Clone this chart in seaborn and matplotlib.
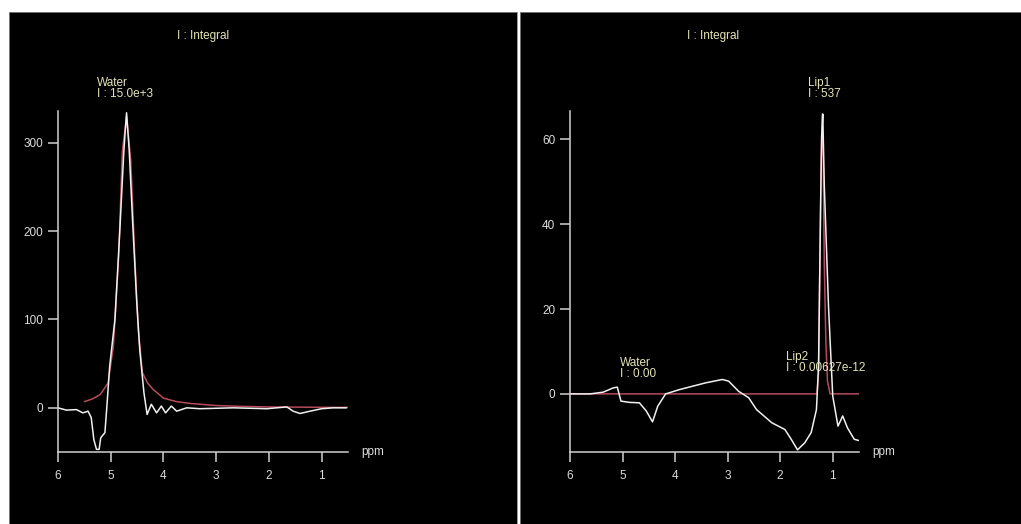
import numpy as np
import pandas as pd
import seaborn as sns
import matplotlib
matplotlib.use("Agg")
from matplotlib import pyplot as plt

# left spectrum (water peak), ppm / amplitude
ppm_water = [6.0, 5.84, 5.65, 5.53, 5.43, 5.37, 5.32, 5.27, 5.22, 5.19, 5.11, 5.07, 5.02,
             4.92, 4.83, 4.75, 4.70, 4.65, 4.59, 4.51, 4.45, 4.37, 4.31, 4.23, 4.13, 4.04,
             3.96, 3.85, 3.75, 3.56, 3.31, 2.68, 2.04, 1.66, 1.54, 1.41, 1.22, 1.0, 0.78, 0.53]
amp_water = [0, -2.6, -2, -5.7, -3.8, -11, -36, -47, -47, -34, -28, 4, 47,
             100, 198, 292, 334, 292, 217, 123, 66, 17, -7.5, 4, -5.7, 2,
             -5.7, 2, -3.8, 0, -1, 0, -1, 1, -3.8, -6.4, -3.8, -1, 0, 0]
fit_ppm_water = [5.5, 5.35, 5.2, 5.05, 4.95, 4.85, 4.78, 4.70, 4.62, 4.55, 4.48, 4.4,
                 4.3, 4.2, 4.0, 3.75, 3.5, 3.0, 2.5, 2.0, 1.5, 1.0, 0.5]
fit_amp_water = [7, 10, 15, 28, 70, 170, 290, 330, 280, 180, 90, 40,
                 28, 21, 11, 7, 5, 2.6, 1.6, 1, 0.8, 0.6, 0.5]

# right spectrum (lipid peak)
ppm_lip = [6.0, 5.62, 5.37, 5.18, 5.1, 5.03, 4.87, 4.68, 4.55, 4.43, 4.33, 4.18, 3.92,
           3.67, 3.42, 3.1, 2.98, 2.79, 2.6, 2.45, 2.16, 1.91, 1.79, 1.67, 1.53, 1.41,
           1.31, 1.27, 1.23, 1.21, 1.19, 1.16, 1.08, 1.0, 0.9, 0.81, 0.72, 0.59, 0.5]
amp_lip = [0, 0, 0.4, 1.4, 1.6, -1.7, -2, -2.1, -4, -6.6, -2.9, 0, 1,
           1.8, 2.6, 3.4, 3, 0.6, -0.9, -3.7, -6.8, -8.4, -10.7, -13.2, -11.5, -9.1,
           -3.7, 6.5, 45, 61, 66, 49, 20.5, -0.5, -7.6, -5.2, -8, -10.7, -11]
fit_ppm_lip = [6.0, 2.0, 1.3, 1.27, 1.25, 1.22, 1.2, 1.18, 1.16, 1.13, 1.1, 1.05, 0.5]
fit_amp_lip = [0, 0, 0, 5, 25, 55, 66, 55, 30, 12, 3, 0, 0]

W, H = 1021, 524
bg = "#000000"
axis_col = "#d0d0d0"
text_col = "#e4e4b8"
fit_col = "#b84a5c"
fs = 8.5

sns.set_theme(style="dark")
plt.rcParams['font.family'] = ['Liberation Sans', 'DejaVu Sans']

fig = plt.figure(figsize=(W / 100, H / 100), dpi=100)
fig.patch.set_facecolor("white")


def px_box(x0, y0, x1, y1):
    return [x0 / W, 1 - y1 / H, (x1 - x0) / W, (y1 - y0) / H]


def panel(bx0, bx1, ax_x0, ax_x1, ylim, yticks, title_x):
    back = fig.add_axes(px_box(bx0, 12, bx1, H))
    back.set_facecolor(bg)
    back.set_xticks([])
    back.set_yticks([])
    for s in back.spines.values():
        s.set_color("#888888")
        s.set_linewidth(0.6)
    ax = fig.add_axes(px_box(ax_x0, 111, ax_x1, 452))
    ax.patch.set_alpha(0)
    ax.set_xlim(6, 0.5)
    ax.set_ylim(*ylim)
    ax.set_xticks([6, 5, 4, 3, 2, 1])
    ax.set_xticklabels(["6", "5", "4", "3", "2", "1"])
    ax.set_yticks(yticks)
    ax.set_yticklabels([str(t) for t in yticks])
    ax.grid(False)
    for side in ["top", "right"]:
        ax.spines[side].set_visible(False)
    for side in ["left", "bottom"]:
        ax.spines[side].set_color(axis_col)
        ax.spines[side].set_linewidth(1.1)
    ax.tick_params(axis="both", colors=axis_col, labelcolor="#dcdcdc", labelsize=fs,
                   length=7, width=1.1, direction="out", bottom=True, left=True)
    ax.tick_params(axis="x", pad=6)
    ax.set_xlabel("")
    ax.set_ylabel("")
    fig.text(title_x / W, 1 - 36 / H, "I : Integral", color=text_col, fontsize=fs,
             ha="center", va="center")
    ax.text(1.045, 0.0, "ppm", transform=ax.transAxes, color="#dcdcdc", fontsize=fs,
            ha="left", va="center")
    return ax


ax1 = panel(9, 517, 58, 348, (-50, 336), [0, 100, 200, 300], 203)
ax2 = panel(520, W, 570, 859, (-13.7, 66.7), [0, 20, 40, 60], 713)

df_w = pd.DataFrame({"ppm": ppm_water, "amp": amp_water})
df_wf = pd.DataFrame({"ppm": fit_ppm_water, "amp": fit_amp_water})
df_l = pd.DataFrame({"ppm": ppm_lip, "amp": amp_lip})
df_lf = pd.DataFrame({"ppm": fit_ppm_lip, "amp": fit_amp_lip})

sns.lineplot(data=df_wf, x="ppm", y="amp", ax=ax1, color=fit_col, lw=1.1, estimator=None)
sns.lineplot(data=df_w, x="ppm", y="amp", ax=ax1, color="#f0f0f0", lw=1.1, estimator=None)
sns.lineplot(data=df_lf, x="ppm", y="amp", ax=ax2, color=fit_col, lw=1.1, estimator=None)
sns.lineplot(data=df_l, x="ppm", y="amp", ax=ax2, color="#f0f0f0", lw=1.1, estimator=None)
for ax in (ax1, ax2):
    ax.set_xlim(6, 0.5)
    ax.set_xlabel("")
    ax.set_ylabel("")

ax1.text(5.26, 349, "Water\nI : 15.0e+3", color=text_col, fontsize=fs, ha="left",
         va="bottom", linespacing=0.85, clip_on=False)
ax2.text(1.47, 69.3, "Lip1\nI : 537", color=text_col, fontsize=fs, ha="left",
         va="bottom", linespacing=0.85, clip_on=False)
ax2.text(5.04, 3.3, "Water\nI : 0.00", color=text_col, fontsize=fs, ha="left",
         va="bottom", linespacing=0.85)
ax2.text(1.89, 4.7, "Lip2\nI : 0.00627e-12", color=text_col, fontsize=fs, ha="left",
         va="bottom", linespacing=0.85)

fig.savefig("out.png", dpi=100, facecolor=fig.get_facecolor())
